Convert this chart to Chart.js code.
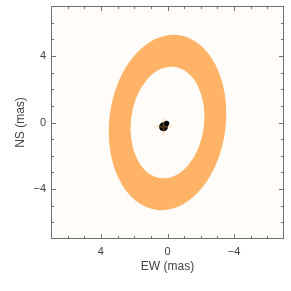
<!DOCTYPE html>
<html>
<head>
<meta charset="utf-8">
<script src="https://cdn.jsdelivr.net/npm/chart.js@4.4.0/dist/chart.umd.min.js"></script>
<style>
  html, body { margin: 0; padding: 0; background: #fff; }
  #wrap { width: 291px; height: 291px; }
</style>
</head>
<body>
<div id="wrap"><canvas id="chart"></canvas></div>
<script>
// axis range and labelled ticks (mas)
const axisMin = -7
const axisMax = 7
const labelledTicks = [-4, 0, 4]

// ring model: centre (EW, NS), semi-axes [minor, major] in mas, tilt in degrees
const ringCenter = [0, 0]
const ringOuter = [3.5, 5.29]
const ringInner = [2.2, 3.37]
const ringTilt = 7

// central star (EW, NS)
const starX = [0.24, 0.06]
const starY = [-0.26, -0.06]

const plotBg = {
    id: 'plotBg',
    beforeDraw(chart) {
        const {ctx, chartArea: a} = chart
        ctx.save()
        ctx.fillStyle = '#fffcfa'
        ctx.fillRect(a.left, a.top, a.right - a.left, a.bottom - a.top)
        ctx.restore()
    }
}

const ring = {
    id: 'ring',
    beforeDatasetsDraw(chart) {
        const ctx = chart.ctx
        const xs = chart.scales.x, ys = chart.scales.y
        const cx = xs.getPixelForValue(ringCenter[0])
        const cy = ys.getPixelForValue(ringCenter[1])
        const sx = Math.abs(xs.getPixelForValue(1) - xs.getPixelForValue(0))
        const sy = Math.abs(ys.getPixelForValue(1) - ys.getPixelForValue(0))
        const rot = ringTilt * Math.PI / 180
        ctx.save()
        ctx.beginPath()
        ctx.ellipse(cx, cy, ringOuter[0] * sx, ringOuter[1] * sy, rot, 0, Math.PI * 2)
        ctx.ellipse(cx, cy, ringInner[0] * sx, ringInner[1] * sy, rot, 0, Math.PI * 2)
        ctx.fillStyle = '#ffb366'
        ctx.fill('evenodd')
        ctx.restore()
    }
}

// frame with inward ticks on all four sides
const frame = {
    id: 'frame',
    afterDraw(chart) {
        const {ctx, chartArea: a} = chart
        ctx.save()
        ctx.strokeStyle = '#707070'
        ctx.lineWidth = 1
        ctx.strokeRect(a.left + 0.5, a.top + 0.5, a.right - a.left - 1, a.bottom - a.top - 1)
        ctx.beginPath()
        chart.scales.x.ticks.forEach(t => {
            const p = Math.round(chart.scales.x.getPixelForValue(t.value)) + 0.5
            const len = labelledTicks.includes(t.value) ? 5 : 3
            ctx.moveTo(p, a.bottom); ctx.lineTo(p, a.bottom - len)
            ctx.moveTo(p, a.top); ctx.lineTo(p, a.top + len)
        })
        chart.scales.y.ticks.forEach(t => {
            const p = Math.round(chart.scales.y.getPixelForValue(t.value)) + 0.5
            const len = labelledTicks.includes(t.value) ? 5 : 3
            ctx.moveTo(a.left, p); ctx.lineTo(a.left + len, p)
            ctx.moveTo(a.right, p); ctx.lineTo(a.right - len, p)
        })
        ctx.stroke()
        ctx.restore()
    }
}

const tickLabel = v => labelledTicks.includes(v) ? String(v).replace('-', '\u2212') : ''
const innerTicks = s => { s.ticks = s.ticks.filter(t => t.value > axisMin && t.value < axisMax) }
// fixed box size, no label overhang padding
const fixBox = (s, w, h) => {
    if (w) s.width = w
    if (h) s.height = h
    s.paddingTop = s.paddingBottom = s.paddingLeft = s.paddingRight = 0
}
const font = {family: "'Liberation Sans', Arial, sans-serif", size: 11}

new Chart(document.getElementById('chart'), {
    type: 'scatter',
    data: {
        datasets: [{
            data: starX.slice(0, 1).map((x, i) => ({x: x, y: starY[i]})),
            pointStyle: 'cross',
            pointRadius: 9,
            borderColor: 'rgba(255, 179, 102, 0.3)',
            borderWidth: 2
        }, {
            data: starX.map((x, i) => ({x: x, y: starY[i]})),
            pointRadius: [4.5, 2.8],
            backgroundColor: '#000',
            borderWidth: 0
        }]
    },
    options: {
        responsive: true,
        maintainAspectRatio: false,
        animation: false,
        events: [],
        layout: {autoPadding: false, padding: {top: 6, right: 7, left: 0, bottom: 0}},
        plugins: {legend: {display: false}, tooltip: {enabled: false}},
        scales: {
            x: {
                type: 'linear', min: axisMin, max: axisMax, reverse: true,
                grid: {display: false, drawTicks: false},
                border: {display: false},
                ticks: {stepSize: 1, autoSkip: false, maxRotation: 0, padding: 6, color: '#444', font: font, callback: tickLabel},
                title: {display: true, text: 'EW (mas)', color: '#444', font: {family: font.family, size: 12}, padding: {top: 2, bottom: 17}},
                afterBuildTicks: innerTicks,
                afterFit: s => fixBox(s, 0, 52)
            },
            y: {
                type: 'linear', min: axisMin, max: axisMax,
                grid: {display: false, drawTicks: false},
                border: {display: false},
                ticks: {stepSize: 1, autoSkip: false, padding: 5, color: '#444', font: font, callback: tickLabel},
                title: {display: true, text: 'NS (mas)', color: '#444', font: {family: font.family, size: 12}, padding: {top: 13, bottom: 0}},
                afterBuildTicks: innerTicks,
                afterFit: s => fixBox(s, 51, 0)
            }
        }
    },
    plugins: [plotBg, ring, frame]
})
</script>
</body>
</html>
